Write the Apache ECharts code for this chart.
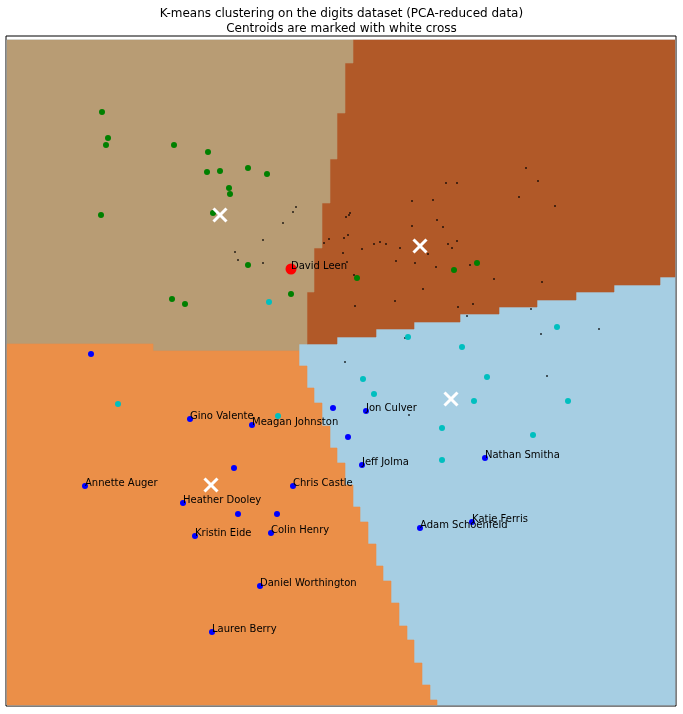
<!DOCTYPE html>
<html>
<head>
<meta charset="utf-8">
<script src="https://cdn.jsdelivr.net/npm/echarts@6/dist/echarts.min.js"></script>
<style>html,body{margin:0;padding:0;background:#fff;}#chart{width:683px;height:714px;}</style>
</head>
<body>
<div id="chart"></div>
<script>
// ---- Data (PCA-reduced coordinates) ----
const titleText = 'K-means clustering on the digits dataset (PCA-reduced data)\nCentroids are marked with white cross';

// decision regions (mesh labels as staircase polygons)
const regionBlue = [[-33.4,33.1],[33.4,33.1],[33.4,-33.4],[-33.4,-33.4]];
const regionBrown = [[1.2,33.1],[33.4,33.1],[33.4,9.4],[31.9,9.4],[31.9,8.6],[27.3,8.6],[27.3,7.9],[23.5,7.9],[23.5,7.1],[19.6,7.1],[19.6,6.4],[15.8,6.4],[15.8,5.7],[11.9,5.7],[11.9,4.9],[7.3,4.9],[7.3,4.2],[3.5,4.2],[3.5,3.4],[-0.4,3.4],[-0.4,2.7],[-3.4,2.7],[-3.4,7.9],[-2.7,7.9],[-2.7,12.3],[-1.9,12.3],[-1.9,16.8],[-1.1,16.8],[-1.1,21.2],[-0.4,21.2],[-0.4,25.8],[0.4,25.8],[0.4,30.8],[1.2,30.8]];
const regionBeige = [[-33.4,33.1],[1.2,33.1],[1.2,30.8],[0.4,30.8],[0.4,25.8],[-0.4,25.8],[-0.4,21.2],[-1.1,21.2],[-1.1,16.8],[-1.9,16.8],[-1.9,12.3],[-2.7,12.3],[-2.7,7.9],[-3.4,7.9],[-3.4,2.7],[-4.2,2.7],[-4.2,2.0],[-18.8,2.0],[-18.8,2.7],[-33.4,2.7]];
const regionOrange = [[-33.4,2.7],[-18.8,2.7],[-18.8,2.0],[-4.2,2.0],[-4.2,0.5],[-3.4,0.5],[-3.4,-1.7],[-2.7,-1.7],[-2.7,-3.2],[-1.9,-3.2],[-1.9,-5.5],[-1.1,-5.5],[-1.1,-7.7],[-0.4,-7.7],[-0.4,-9.2],[0.4,-9.2],[0.4,-11.4],[1.2,-11.4],[1.2,-13.6],[1.9,-13.6],[1.9,-15.1],[2.7,-15.1],[2.7,-17.3],[3.5,-17.3],[3.5,-19.5],[4.2,-19.5],[4.2,-21.0],[5.0,-21.0],[5.0,-23.2],[5.8,-23.2],[5.8,-25.5],[6.6,-25.5],[6.6,-26.9],[7.3,-26.9],[7.3,-29.2],[8.1,-29.2],[8.1,-31.4],[8.9,-31.4],[8.9,-32.9],[9.6,-32.9],[9.6,-33.4],[-33.4,-33.4]];

const greenPoints = [[-23.9,25.9],[-23.3,23.3],[-23.5,22.6],[-16.7,22.6],[-13.3,21.9],[-13.4,19.9],[-12.1,20.0],[-9.3,20.3],[-7.4,19.7],[-11.2,18.3],[-11.1,17.7],[-24.0,15.6],[-12.8,15.8],[-9.3,10.6],[-16.9,7.2],[-15.6,6.7],[-5.0,7.7],[1.6,9.3],[11.3,10.1],[13.6,10.8]];
const cyanPoints = [[-7.2,6.9],[6.7,3.4],[12.1,2.4],[21.6,4.4],[-22.3,-3.3],[-6.3,-4.5],[2.2,-0.8],[3.3,-2.3],[14.6,-0.6],[13.3,-3.0],[22.7,-3.0],[10.1,-5.7],[19.2,-6.4],[10.1,-8.9]];
const bluePoints = [[-25.0,1.7],[-0.8,-3.7],[0.7,-6.6],[-10.7,-9.7],[-10.3,-14.3],[-6.4,-14.3]];
const namedNames = ['Gino Valente','Meagan Johnston','Annette Auger','Chris Castle','Heather Dooley','Kristin Eide','Colin Henry','Daniel Worthington','Lauren Berry','Jon Culver','Jeff Jolma','Nathan Smitha','Adam Schoenfeld','Katie Ferris'];
const namedX = [-15.1,-8.9,-25.6,-4.8,-15.8,-14.6,-7.0,-8.1,-12.9,2.5,2.1,14.4,7.9,13.1];
const namedY = [-4.8,-5.4,-11.5,-11.5,-13.2,-16.5,-16.2,-21.5,-26.1,-4.0,-9.4,-8.7,-15.7,-15.1];
const highlightName = 'David Leen';
const highlightPoint = [-5.0,10.2];
const smallPoints = [[-4.5,16.4],[-4.8,15.9],[-5.8,14.8],[-7.8,13.1],[-10.6,11.9],[-10.3,11.1],[-7.8,10.8],[0.9,15.8],[0.8,15.6],[0.5,15.4],[0.7,13.6],[0.3,13.3],[-1.2,13.2],[-1.7,12.8],[3.3,12.7],[3.9,12.9],[4.5,12.7],[5.9,12.3],[2.1,12.2],[0.2,11.8],[0.6,10.9],[5.5,11.0],[7.4,10.8],[1.3,9.6],[5.4,7.0],[1.4,6.5],[7.1,17.0],[7.1,14.5],[18.5,20.3],[19.7,19.0],[10.5,18.8],[11.6,18.8],[17.8,17.4],[21.4,16.5],[9.2,17.1],[9.6,15.1],[10.2,14.4],[11.6,13.0],[10.7,12.7],[11.1,12.3],[8.7,11.7],[9.5,10.4],[12.9,10.6],[15.3,9.2],[20.1,8.9],[8.2,8.2],[11.7,6.4],[13.2,6.7],[12.6,5.5],[19.0,6.2],[20.0,3.7],[25.8,4.2],[6.4,3.3],[0.4,0.9],[6.8,-4.4],[20.6,-0.5]];
const centroids = [[-12.1,15.6],[7.9,12.5],[11.0,-2.8],[-13.0,-11.4]];

// ---- Chart ----
const regions = [
  {pts: regionBlue, color: '#a6cee3'},
  {pts: regionBrown, color: '#b15928'},
  {pts: regionBeige, color: '#b89c74'},
  {pts: regionOrange, color: '#eb8f48'}
];
const FONT = 'DejaVu Sans';
const chart = echarts.init(document.getElementById('chart'), null, {renderer: 'canvas'});
const labelStyle = {
  show: true, formatter: '{b}', position: [3, 3], align: 'left', verticalAlign: 'bottom',
  offset: [0, 2.5], fontFamily: FONT, fontSize: 10, color: '#000'
};
chart.setOption({
  animation: false,
  backgroundColor: '#fff',
  title: {
    text: titleText, left: 'center', top: 1,
    textStyle: {fontFamily: FONT, fontSize: 12, fontWeight: 'normal', color: '#000', lineHeight: 15}
  },
  grid: {left: 6, right: 7, top: 36, bottom: 8, show: true, borderColor: '#000', borderWidth: 1, backgroundColor: '#fff'},
  xAxis: {type: 'value', min: -33.5, max: 33.5, show: false},
  yAxis: {type: 'value', min: -33.5, max: 33.5, show: false},
  series: [
    {
      type: 'custom', z: 1, silent: true,
      data: regions.map((r, i) => [i]),
      encode: {x: 0, y: 0},
      renderItem: function (params, api) {
        const r = regions[params.dataIndex];
        return {type: 'polygon', shape: {points: r.pts.map(p => api.coord(p))},
          style: {fill: r.color, stroke: r.color, lineWidth: 0.6}};
      }
    },
    {type: 'scatter', z: 3, symbol: 'rect', symbolSize: 2, data: smallPoints,
      itemStyle: {color: 'rgba(0,0,0,0.6)', opacity: 1}},
    {type: 'scatter', z: 4, symbolSize: 6, data: greenPoints, itemStyle: {color: '#008000', opacity: 1}},
    {type: 'scatter', z: 4, symbolSize: 6, data: cyanPoints, itemStyle: {color: '#00bfbf', opacity: 1}},
    {type: 'scatter', z: 4, symbolSize: 6, data: bluePoints, itemStyle: {color: '#0000ff', opacity: 1}},
    {type: 'scatter', z: 5, symbolSize: 6, itemStyle: {color: '#0000ff', opacity: 1},
      data: namedNames.map((n, i) => ({name: n, value: [namedX[i], namedY[i]]})),
      label: labelStyle},
    {type: 'scatter', z: 5, symbolSize: 11, itemStyle: {color: '#ff0000', opacity: 1},
      data: [{name: highlightName, value: highlightPoint}],
      label: Object.assign({}, labelStyle, {position: [5.5, 5.5]})},
    {
      type: 'custom', z: 6, silent: true, data: centroids,
      renderItem: function (params, api) {
        const c = api.coord([api.value(0), api.value(1)]);
        const h = 6.5;
        return {type: 'group', children: [
          {type: 'line', shape: {x1: c[0]-h, y1: c[1]-h, x2: c[0]+h, y2: c[1]+h}, style: {stroke: '#fff', lineWidth: 3}},
          {type: 'line', shape: {x1: c[0]-h, y1: c[1]+h, x2: c[0]+h, y2: c[1]-h}, style: {stroke: '#fff', lineWidth: 3}}
        ]};
      }
    }
  ]
});
</script>
</body>
</html>
